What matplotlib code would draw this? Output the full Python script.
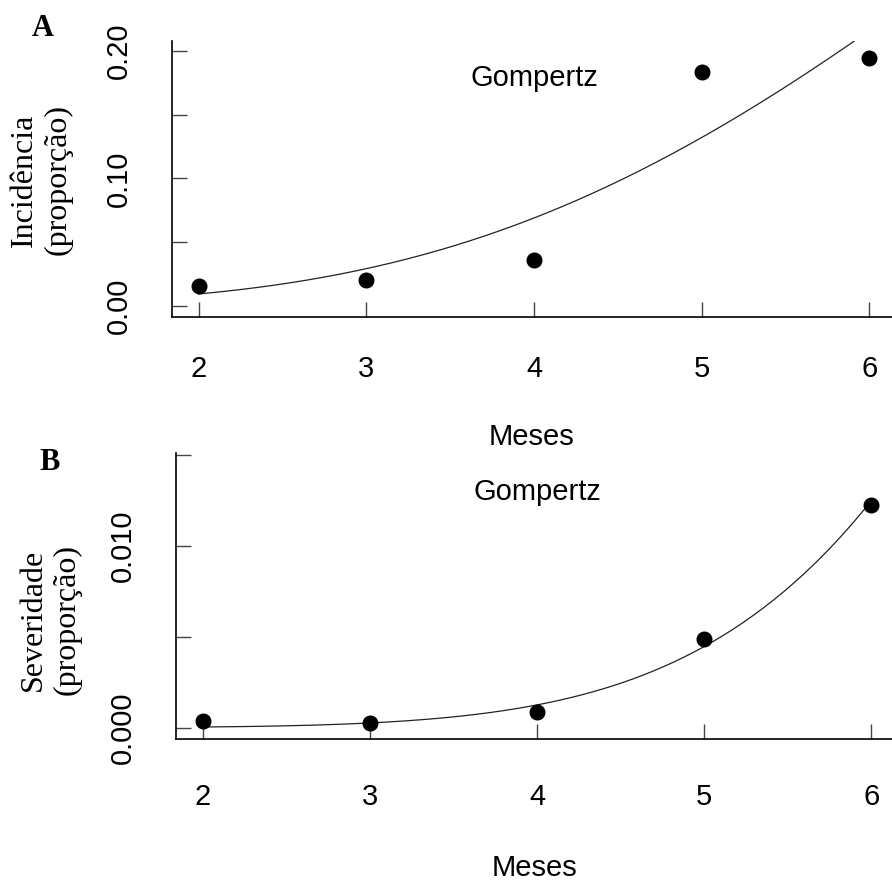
import numpy as np
import matplotlib
matplotlib.use('Agg')
import matplotlib.pyplot as plt

# Meses de avaliação e proporções observadas
meses = [2, 3, 4, 5, 6]
incidencia = [0.0159, 0.0204, 0.036, 0.183, 0.194]
severidade = [0.00038, 0.00027, 0.00085, 0.0049, 0.01225]

# Parâmetros do modelo de Gompertz ajustado: y = exp(-B * exp(-r * t))
gomp_inc = {'B': 8.13, 'r': 0.278}
gomp_sev = {'B': 15.53, 'r': 0.2108}

sans = 'Liberation Sans'
serif = 'Liberation Serif'


def gompertz(t, B, r):
    return np.exp(-B * np.exp(-r * t))


def painel(ax, y, par, ylim, yticks, ylabels, ylabel, lab_coords, xpad, xlab_y, gomp_y):
    ax.set_xlim(1.84, 6.16)
    ax.set_ylim(*ylim)
    t = np.linspace(2, 6, 200)
    ax.plot(t, gompertz(t, **par), color='#222222', lw=0.9)
    ax.plot(meses, y, 'o', color='black', ms=10.5)

    for s in ['top', 'right']:
        ax.spines[s].set_visible(False)
    for s in ['left', 'bottom']:
        ax.spines[s].set_linewidth(1.2)

    ax.set_xticks(meses, [str(m) for m in meses], fontsize=21, family=sans, va='center')
    ax.set_yticks(yticks, ylabels, fontsize=21, family=sans, rotation=90,
                  ha='center', va='center')
    ax.tick_params(axis='both', direction='in', length=11, width=1, color='#444444')
    ax.tick_params(axis='x', pad=xpad)
    ax.tick_params(axis='y', pad=38.5)

    ax.set_xlabel('Meses', fontsize=21, family=sans, va='center')
    ax.xaxis.set_label_coords(0.4966, xlab_y)
    ax.set_ylabel(ylabel, fontsize=23, family=serif, va='center', linespacing=1.2)
    ax.yaxis.set_label_coords(*lab_coords)

    ax.text(4.0, gomp_y, 'Gompertz', fontsize=21, family=sans, ha='center', va='center')


fig = plt.figure(figsize=(8.92, 8.81), dpi=100)
ax1 = fig.add_axes([0.1928, 0.6402, 0.8117, 0.3133])
ax2 = fig.add_axes([0.1973, 0.1612, 0.8094, 0.325])

painel(ax1, incidencia, gomp_inc, (-0.0086, 0.2077),
       [0.0, 0.05, 0.10, 0.15, 0.20], ['0.00', '', '0.10', '', '0.20'],
       'Incidência\n(proporção)', (-0.1802, 0.4964), 37.4, -0.4348, 0.1787)
painel(ax2, severidade, gomp_sev, (-0.00062, 0.01512),
       [0.0, 0.005, 0.010, 0.015], ['0.000', '', '0.010', ''],
       'Severidade\n(proporção)', (-0.1745, 0.4156), 41.8, -0.4506, 0.01294)

fig.text(43 / 892, 1 - 29 / 881, 'A', fontsize=22, family=serif, weight='bold',
         ha='center', va='center')
fig.text(50 / 892, 1 - 462.5 / 881, 'B', fontsize=22, family=serif, weight='bold',
         ha='center', va='center')

fig.savefig('out.png', dpi=100)
